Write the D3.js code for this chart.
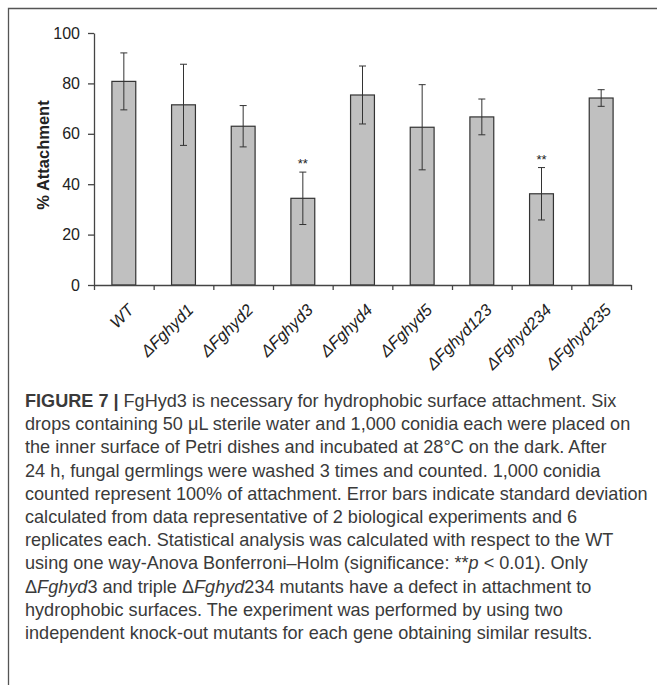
<!DOCTYPE html>
<html>
<head>
<meta charset="utf-8">
<script src="https://cdn.jsdelivr.net/npm/d3@7"></script>
<style>
  html, body { margin: 0; padding: 0; background: #fff; }
  svg { display: block; }
</style>
</head>
<body>
<div id="chart"></div>
<script>
// data
const strains = ['WT', 'Fghyd1', 'Fghyd2', 'Fghyd3', 'Fghyd4', 'Fghyd5', 'Fghyd123', 'Fghyd234', 'Fghyd235'];
const attachment = [80.8, 71.5, 63.0, 34.4, 75.4, 62.6, 66.7, 36.2, 74.2];
const stdDev = [11.3, 16.1, 8.2, 10.4, 11.5, 16.9, 7.1, 10.4, 3.3];
const signif = ['', '', '', '**', '', '', '', '**', ''];
const yTicks = [0, 20, 40, 60, 80, 100];

const captionLines = [
  [['b', 'FIGURE 7 | '], ['', 'FgHyd3 is necessary for hydrophobic surface attachment. Six']],
  [['', 'drops containing 50 \u03bcL sterile water and 1,000 conidia each were placed on']],
  [['', 'the inner surface of Petri dishes and incubated at 28\u00b0C on the dark. After']],
  [['', '24 h, fungal germlings were washed 3 times and counted. 1,000 conidia']],
  [['', 'counted represent 100% of attachment. Error bars indicate standard deviation']],
  [['', 'calculated from data representative of 2 biological experiments and 6']],
  [['', 'replicates each. Statistical analysis was calculated with respect to the WT']],
  [['', 'using one way-Anova Bonferroni\u2013Holm (significance: **'], ['i', 'p'], ['', ' < 0.01). Only']],
  [['', '\u0394'], ['i', 'Fghyd'], ['', '3 and triple \u0394'], ['i', 'Fghyd'], ['', '234 mutants have a defect in attachment to']],
  [['', 'hydrophobic surfaces. The experiment was performed by using two']],
  [['', 'independent knock-out mutants for each gene obtaining similar results.']]
];

const width = 657, height = 685;
const margin = { left: 94, right: 26, top: 33, bottom: 400 };
const axisColor = '#444';

const svg = d3.select('#chart').append('svg')
  .attr('width', width)
  .attr('height', height)
  .attr('font-family', '"Liberation Sans", Arial, sans-serif');

// frame (cut off at right and bottom)
svg.append('path')
  .attr('d', `M8.5,${height} V8.5 H${width}`)
  .attr('fill', 'none')
  .attr('stroke', '#555')
  .attr('stroke-width', 1.3);

const x = d3.scaleBand()
  .domain(strains)
  .range([margin.left, width - margin.right])
  .paddingInner(0.6)
  .paddingOuter(0.3);

const xEdge = d3.scaleLinear()
  .domain([0, strains.length])
  .range([margin.left, width - margin.right]);

const y = d3.scaleLinear()
  .domain([0, 100])
  .range([285, margin.top]);

// y axis
const yAxis = svg.append('g')
  .attr('transform', `translate(${margin.left},0)`)
  .call(d3.axisLeft(y).tickValues(yTicks).tickSize(6).tickPadding(8).tickSizeOuter(0));
yAxis.selectAll('path, line').attr('stroke', axisColor).attr('stroke-width', 1.3);
yAxis.selectAll('text')
  .attr('font-size', 16)
  .attr('fill', '#222')
  .attr('font-family', '"Liberation Sans", Arial, sans-serif');

// bars
svg.selectAll('.bar')
  .data(strains)
  .enter()
  .append('rect')
  .attr('class', 'bar')
  .attr('x', d => x(d))
  .attr('width', x.bandwidth())
  .attr('y', (d, i) => y(attachment[i]))
  .attr('height', (d, i) => y(0) - y(attachment[i]))
  .attr('fill', '#c0c0c0')
  .attr('stroke', '#333')
  .attr('stroke-width', 1.2);

// error bars
const err = svg.selectAll('.err')
  .data(strains)
  .enter()
  .append('g')
  .attr('class', 'err')
  .attr('stroke', '#333')
  .attr('stroke-width', 1);
err.append('line')
  .attr('x1', d => x(d) + x.bandwidth() / 2)
  .attr('x2', d => x(d) + x.bandwidth() / 2)
  .attr('y1', (d, i) => y(attachment[i] + stdDev[i]))
  .attr('y2', (d, i) => y(attachment[i] - stdDev[i]));
[1, -1].forEach(s => {
  err.append('line')
    .attr('x1', d => x(d) + x.bandwidth() / 2 - 3.5)
    .attr('x2', d => x(d) + x.bandwidth() / 2 + 3.5)
    .attr('y1', (d, i) => y(attachment[i] + s * stdDev[i]))
    .attr('y2', (d, i) => y(attachment[i] + s * stdDev[i]));
});

// significance stars
svg.selectAll('.star')
  .data(strains)
  .enter()
  .append('text')
  .attr('x', d => x(d) + x.bandwidth() / 2)
  .attr('y', (d, i) => y(attachment[i] + stdDev[i]) - 4)
  .attr('text-anchor', 'middle')
  .attr('font-size', 13)
  .attr('fill', '#222')
  .text((d, i) => signif[i]);

// x axis with ticks between categories
const xAxis = svg.append('g')
  .attr('transform', `translate(0,${y(0)})`)
  .call(d3.axisBottom(xEdge).tickValues(d3.range(strains.length + 1)).tickSize(5).tickFormat('').tickSizeOuter(0));
xAxis.selectAll('path, line').attr('stroke', axisColor).attr('stroke-width', 1.3);

// category labels
svg.selectAll('.xlab')
  .data(strains)
  .enter()
  .append('text')
  .attr('class', 'xlab')
  .attr('transform', d => `translate(${x(d) + x.bandwidth() / 2 + 7},${y(0) + 22}) rotate(-45)`)
  .attr('dy', '0.35em')
  .attr('text-anchor', 'end')
  .attr('font-size', 16.5)
  .attr('font-style', 'italic')
  .attr('fill', '#222')
  .text(d => d === 'WT' ? d : '\u0394' + d);

// y title
svg.append('text')
  .attr('transform', `translate(49,${(y(0) + y(100)) / 2 - 4}) rotate(-90)`)
  .attr('text-anchor', 'middle')
  .attr('font-size', 16.5)
  .attr('font-weight', 'bold')
  .attr('fill', '#222')
  .text('% Attachment');

// caption
const cap = svg.append('g')
  .attr('font-size', 18.1)
  .attr('fill', '#3a3a3a');
captionLines.forEach((line, i) => {
  const t = cap.append('text')
    .attr('x', 25)
    .attr('y', 407 + i * 23.2);
  line.forEach(([style, str]) => {
    t.append('tspan')
      .attr('font-weight', style === 'b' ? 'bold' : null)
      .attr('font-style', style === 'i' ? 'italic' : null)
      .text(str);
  });
});
</script>
</body>
</html>
